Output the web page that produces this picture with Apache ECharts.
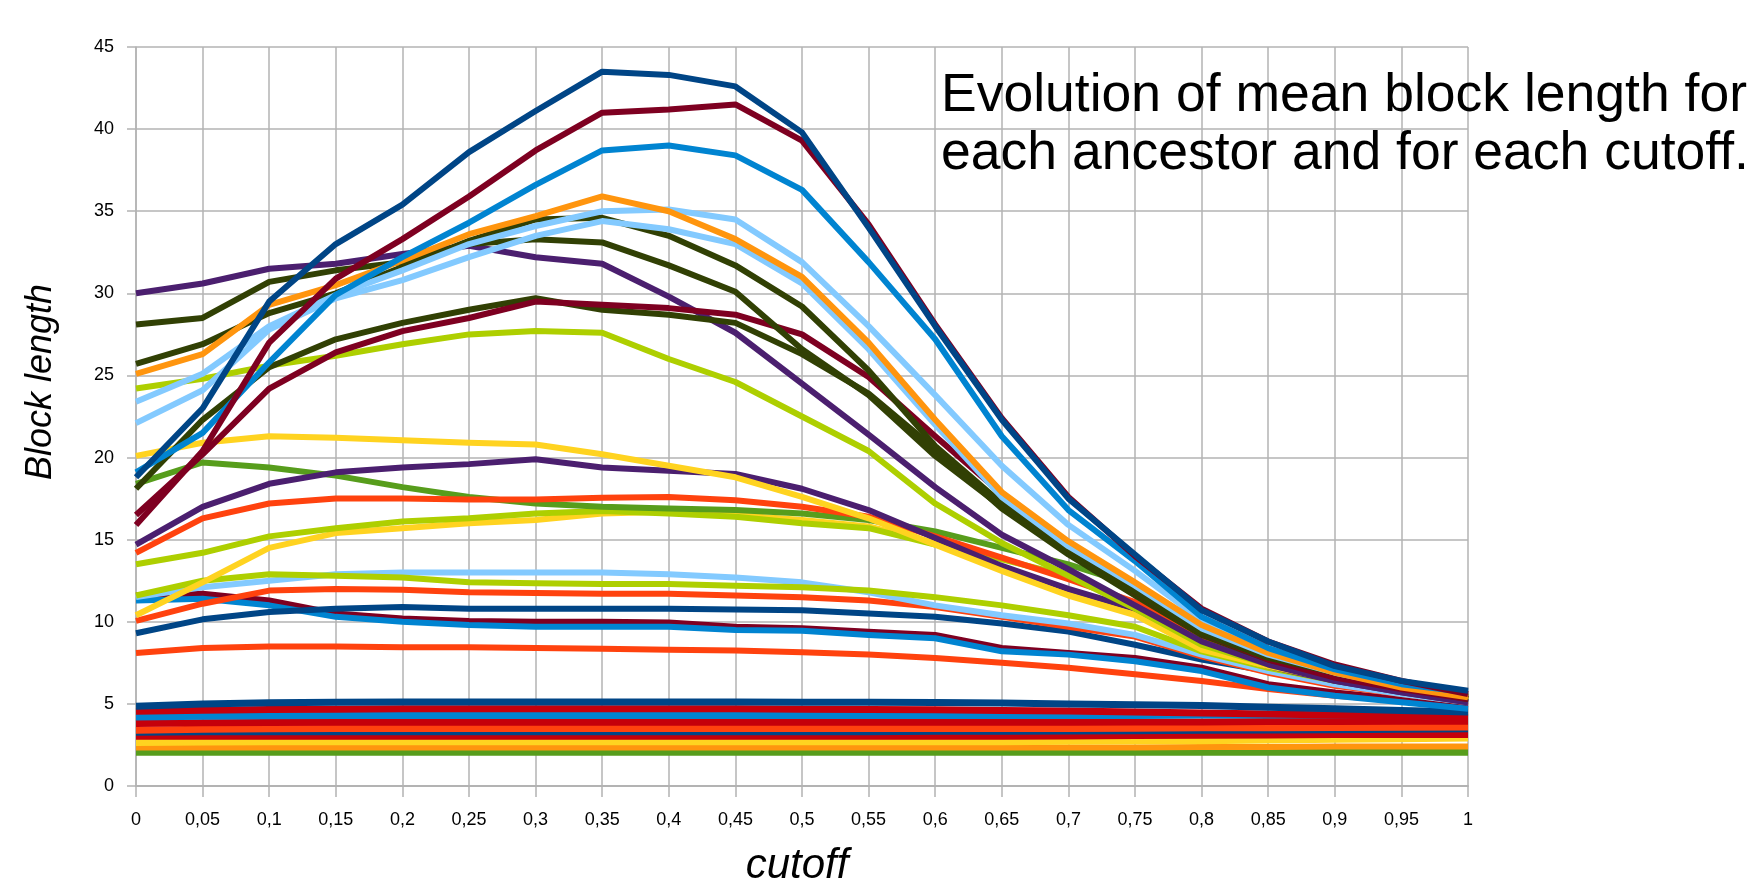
<!DOCTYPE html>
<html>
<head>
<meta charset="utf-8">
<script src="https://cdn.jsdelivr.net/npm/echarts@6/dist/echarts.min.js"></script>
<style>html,body{margin:0;padding:0;background:#fff;}#c{width:1757px;height:882px;}</style>
</head>
<body>
<div id="c"></div>
<script>
// ---- data ----
const cutoffs = ['0','0,05','0,1','0,15','0,2','0,25','0,3','0,35','0,4','0,45','0,5','0,55','0,6','0,65','0,7','0,75','0,8','0,85','0,9','0,95','1'];
const yTicks = [0,5,10,15,20,25,30,35,40,45];

// bottom flat band
const green2   = [2.05,2.05,2.05,2.05,2.05,2.05,2.05,2.05,2.05,2.05,2.05,2.05,2.05,2.05,2.05,2.05,2.05,2.05,2.05,2.05,2.05];
const orange2  = [2.35,2.35,2.35,2.35,2.35,2.35,2.35,2.35,2.35,2.35,2.35,2.35,2.35,2.35,2.35,2.35,2.37,2.38,2.4,2.4,2.4];
const yellow2  = [2.65,2.68,2.7,2.7,2.7,2.7,2.7,2.7,2.7,2.7,2.7,2.7,2.7,2.7,2.72,2.74,2.76,2.8,2.84,2.88,2.92];
const red3     = [3.0,3.0,3.0,3.0,3.0,3.0,3.0,3.0,3.0,3.0,3.0,3.0,3.0,3.0,3.02,3.04,3.06,3.08,3.1,3.1,3.1];
const dkblue3  = [3.25,3.27,3.28,3.28,3.28,3.28,3.28,3.28,3.28,3.28,3.28,3.28,3.3,3.3,3.32,3.34,3.36,3.38,3.4,3.42,3.45];
const orangered3 = [3.4,3.45,3.48,3.5,3.5,3.5,3.5,3.5,3.5,3.5,3.5,3.5,3.5,3.5,3.5,3.52,3.54,3.55,3.56,3.58,3.6];
const red38    = [3.8,3.85,3.87,3.88,3.88,3.88,3.88,3.88,3.88,3.88,3.88,3.88,3.88,3.88,3.88,3.9,3.9,3.92,3.93,3.94,3.95];
const blue43   = [4.2,4.25,4.28,4.3,4.3,4.3,4.3,4.3,4.3,4.3,4.3,4.3,4.3,4.3,4.3,4.3,4.32,4.33,4.34,4.35,4.35];
const red46    = [4.55,4.62,4.66,4.68,4.7,4.7,4.7,4.7,4.7,4.7,4.68,4.66,4.64,4.6,4.56,4.5,4.45,4.38,4.32,4.25,4.15];
const dkblue5  = [4.85,5.0,5.07,5.1,5.12,5.12,5.12,5.12,5.12,5.12,5.1,5.1,5.08,5.05,5.0,4.95,4.9,4.8,4.7,4.6,4.5];

// middle lines
const orangered8  = [8.1,8.4,8.5,8.5,8.45,8.45,8.4,8.35,8.3,8.25,8.15,8.0,7.8,7.5,7.2,6.8,6.4,5.9,5.5,5.2,5.0];
const dkred11     = [11.6,11.7,11.3,10.5,10.2,10.05,10.0,10.0,9.95,9.7,9.6,9.4,9.2,8.4,8.1,7.8,7.2,6.2,5.7,5.3,4.9];
const blue11      = [11.3,11.4,11.0,10.3,10.0,9.8,9.7,9.7,9.7,9.5,9.45,9.2,9.0,8.2,8.0,7.6,7.0,6.0,5.5,5.1,4.7];
const dkblue10    = [9.3,10.15,10.6,10.8,10.9,10.8,10.8,10.8,10.8,10.75,10.7,10.5,10.3,9.9,9.4,8.6,7.7,7.0,6.3,5.7,5.1];
const orangered12 = [10.05,11.1,11.9,12.0,11.95,11.8,11.75,11.7,11.7,11.6,11.5,11.3,10.9,10.3,9.7,9.1,7.9,6.9,6.1,5.6,5.1];
const lime12      = [11.6,12.5,12.9,12.8,12.7,12.4,12.35,12.3,12.3,12.2,12.1,11.9,11.5,11.0,10.4,9.7,8.2,7.2,6.4,5.8,5.2];
const ltblue13    = [11.5,12.1,12.5,12.9,13.0,13.0,13.0,13.0,12.9,12.7,12.4,11.8,11.0,10.4,9.9,9.2,8.0,7.0,6.2,5.6,5.1];
const yellow16    = [10.4,12.4,14.5,15.4,15.7,16.0,16.2,16.6,16.7,16.5,16.2,15.8,14.8,13.3,11.9,10.6,8.4,7.3,6.5,5.8,5.3];
const lime16      = [13.5,14.2,15.2,15.7,16.1,16.3,16.6,16.75,16.6,16.4,16.0,15.7,14.7,13.8,12.8,11.0,8.6,7.4,6.5,5.8,5.2];
const green19     = [18.4,19.7,19.4,18.9,18.2,17.6,17.2,17.0,16.9,16.8,16.6,16.2,15.5,14.5,13.5,12.2,9.6,7.9,6.9,6.1,5.4];
const orangered17 = [14.2,16.3,17.2,17.5,17.5,17.45,17.45,17.55,17.6,17.4,17.0,16.4,15.2,13.9,12.6,11.2,9.0,7.8,6.9,6.1,5.5];
const purple19    = [14.7,17.0,18.4,19.1,19.4,19.6,19.9,19.4,19.2,19.0,18.1,16.8,15.1,13.4,12.0,10.8,8.6,7.3,6.4,5.7,5.1];
const yellow21    = [20.1,20.9,21.3,21.2,21.05,20.9,20.8,20.2,19.5,18.8,17.6,16.3,14.7,13.1,11.6,10.4,8.3,7.3,6.5,5.8,5.3];

// peaked lines
const lime27   = [24.2,24.8,25.6,26.2,26.9,27.5,27.7,27.6,26.0,24.6,22.5,20.4,17.2,14.8,12.8,10.8,8.6,7.4,6.5,5.8,5.2];
const purple32 = [30.0,30.6,31.5,31.8,32.4,32.9,32.2,31.8,29.8,27.6,24.5,21.4,18.2,15.3,13.2,11.0,8.8,7.4,6.4,5.7,5.1];
const olive29  = [18.1,22.3,25.5,27.2,28.2,29.0,29.7,29.0,28.7,28.2,26.3,23.9,20.5,16.9,14.1,11.6,9.2,7.7,6.8,6.0,5.3];
const dkred29  = [16.5,20.2,24.2,26.4,27.7,28.5,29.5,29.3,29.1,28.7,27.5,24.9,21.3,17.8,14.6,11.8,9.3,7.7,6.6,5.9,5.3];
const olive33  = [28.1,28.5,30.7,31.4,31.9,33.0,33.3,33.1,31.7,30.1,26.6,23.8,20.1,17.0,14.2,11.8,9.3,7.8,6.9,6.1,5.4];
const olive34  = [25.7,26.9,28.8,30.0,31.6,33.2,34.5,34.6,33.5,31.7,29.2,25.3,20.7,17.2,14.4,11.9,9.4,7.9,6.9,6.2,5.5];
const ltblue34 = [22.1,24.1,27.8,29.7,30.8,32.2,33.5,34.4,33.9,33.0,30.6,26.6,22.0,17.6,14.6,12.2,9.6,8.0,6.9,6.1,5.5];
const ltblue35 = [23.4,25.1,28.0,29.9,31.4,33.0,34.1,35.0,35.1,34.5,31.9,28.0,23.8,19.5,15.9,13.1,10.1,8.2,7.1,6.2,5.6];
const orange36 = [25.1,26.3,29.3,30.5,32.0,33.6,34.7,35.9,35.0,33.3,31.0,27.0,22.3,17.9,14.9,12.4,9.8,8.1,6.9,6.0,5.4];
const blue39   = [19.1,21.5,25.8,29.9,32.2,34.3,36.6,38.7,39.0,38.4,36.3,31.9,27.2,21.3,16.8,13.7,10.3,8.4,7.1,6.2,5.7];
const dkred41  = [15.9,20.4,27.0,30.9,33.3,35.9,38.7,41.0,41.2,41.5,39.3,34.2,28.1,22.4,17.6,14.0,10.8,8.8,7.4,6.4,5.6];
const dkblue43 = [18.8,23.0,29.5,33.0,35.4,38.6,41.1,43.5,43.3,42.6,39.8,34.0,28.0,22.3,17.5,14.1,10.7,8.8,7.3,6.4,5.8];

// ---- colours (LibreOffice default palette) ----
const C = {dkblue:'#004586', orangered:'#ff420e', yellow:'#ffd320', green:'#579d1c', dkred:'#7e0021',
  ltblue:'#83caff', olive:'#314004', lime:'#aecf00', purple:'#4b1f6f', orange:'#ff950e', red:'#c5000b', blue:'#0084d1'};

// [values, colour, line width]
const seriesDefs = [
  [green2, C.green, 7], [orange2, C.orange, 6], [yellow2, C.yellow, 7], [red3, C.red, 6], [dkblue3, C.dkblue, 6],
  [orangered3, C.orangered, 7], [red38, C.red, 7], [blue43, C.blue, 7], [red46, C.red, 7], [dkblue5, C.dkblue, 7],
  [orangered8, C.orangered, 6], [dkred11, C.dkred, 6], [blue11, C.blue, 6], [dkblue10, C.dkblue, 6], [orangered12, C.orangered, 6],
  [ltblue13, C.ltblue, 6], [lime12, C.lime, 6], [yellow16, C.yellow, 6], [lime16, C.lime, 6], [green19, C.green, 6],
  [orangered17, C.orangered, 6], [purple19, C.purple, 6], [yellow21, C.yellow, 6],
  [lime27, C.lime, 6], [purple32, C.purple, 6], [olive29, C.olive, 6], [dkred29, C.dkred, 6], [olive33, C.olive, 6],
  [olive34, C.olive, 6], [ltblue34, C.ltblue, 6], [ltblue35, C.ltblue, 6], [orange36, C.orange, 6], [blue39, C.blue, 6],
  [dkred41, C.dkred, 6], [dkblue43, C.dkblue, 6]
];

const FONT = '"Liberation Sans", Arial, sans-serif';
const GRID = '#b3b3b3';

const chart = echarts.init(document.getElementById('c'), null, {renderer: 'canvas'});
chart.setOption({
  animation: false,
  backgroundColor: '#ffffff',
  title: {
    text: 'Evolution of mean block length for\neach ancestor and for each cutoff.',
    left: 936, top: 62,
    textStyle: {fontFamily: FONT, fontSize: 53.5, fontWeight: 'normal', color: '#000', lineHeight: 58}
  },
  grid: {left: 136, right: 289, top: 47, bottom: 96, containLabel: false},
  xAxis: {
    type: 'category', data: cutoffs, boundaryGap: false,
    axisLine: {lineStyle: {color: GRID, width: 2}},
    axisTick: {show: true, length: 11, alignWithLabel: true, lineStyle: {color: GRID, width: 1.5}},
    axisLabel: {margin: 25, fontSize: 18, fontFamily: FONT, color: '#000', interval: 0},
    splitLine: {show: true, interval: 0, lineStyle: {color: GRID, width: 1.5}}
  },
  yAxis: {
    type: 'value', min: yTicks[0], max: yTicks[yTicks.length - 1], interval: 5,
    axisLine: {show: true, lineStyle: {color: GRID, width: 1.5}},
    axisTick: {show: true, length: 9, lineStyle: {color: GRID, width: 1.5}},
    axisLabel: {margin: 22, fontSize: 18, fontFamily: FONT, color: '#000'},
    splitLine: {show: true, lineStyle: {color: GRID, width: 1.5}}
  },
  graphic: [
    {type: 'text', x: 41, y: 382, rotation: Math.PI / 2,
      style: {text: 'Block length', font: 'italic 36px ' + FONT, fill: '#000', align: 'center', verticalAlign: 'middle'}},
    {type: 'text', x: 797, y: 866,
      style: {text: 'cutoff', font: 'italic 42px ' + FONT, fill: '#000', align: 'center', verticalAlign: 'middle'}}
  ],
  series: seriesDefs.map(function (d) {
    return {
      type: 'line', data: d[0], symbol: 'none', smooth: false, silent: true,
      lineStyle: {color: d[1], width: d[2], join: 'round', cap: 'butt'},
      itemStyle: {color: d[1]}
    };
  })
});
</script>
</body>
</html>
